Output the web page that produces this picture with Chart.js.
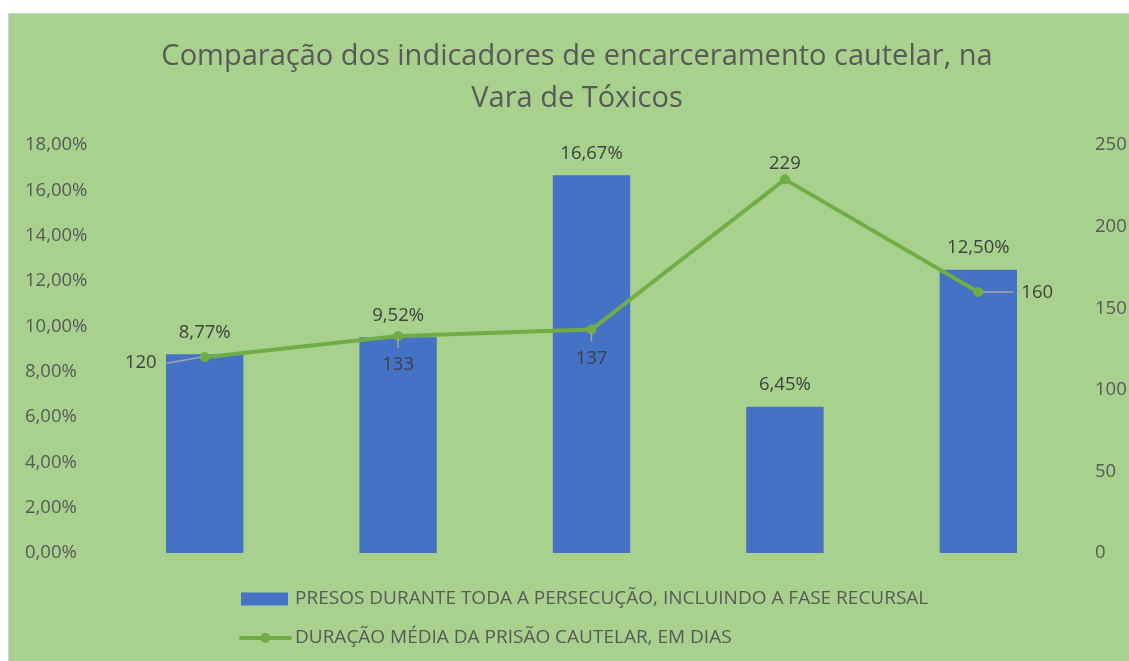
<!DOCTYPE html>
<html><head><meta charset="utf-8">
<script src="https://cdn.jsdelivr.net/npm/chart.js@4"></script>
<style>
html,body{margin:0;padding:0;background:#fff;}
#wrap{position:absolute;left:8px;top:13px;border-left:1px solid #d4d4d4;border-top:1px solid #d4d4d4;width:1120px;height:647px;background:#a9d18e;}
canvas{display:block;}
</style></head><body>
<div id="wrap"><canvas id="c" width="1120" height="647"></canvas></div>
<script>
const categories = ['1', '2', '3', '4', '5'];
const barSeriesName = 'PRESOS DURANTE TODA A PERSECUÇÃO, INCLUINDO A FASE RECURSAL';
const lineSeriesName = 'DURAÇÃO MÉDIA DA PRISÃO CAUTELAR, EM DIAS';
const presosPct = [8.77, 9.52, 16.67, 6.45, 12.50];
const duracaoDias = [120, 133, 137, 229, 160];
const titleLines = ['Comparação dos indicadores de encarceramento cautelar, na', 'Vara de Tóxicos'];
const leftAxis = { min: 0, max: 18, step: 2 };
const rightAxis = { min: 0, max: 250, step: 50 };

const FONT = '"Open Sans", "Noto Sans", sans-serif';
const TXT = '#595959';
const fmtPct = v => v.toFixed(2).replace('.', ',') + '%';

const dataLabels = {
  id: 'dataLabels',
  afterDatasetsDraw(chart, args, opts) {
    const ctx = chart.ctx;
    ctx.save();
    ctx.font = opts.size + 'px ' + FONT;
    ctx.fillStyle = opts.color;
    ctx.textBaseline = 'middle';
    const bar = chart.getDatasetMeta(0);
    const barData = chart.data.datasets[0].data;
    bar.data.forEach((el, i) => {
      ctx.textAlign = 'center';
      ctx.fillText(fmtPct(barData[i]), el.x, el.y - 22);
    });
    const line = chart.getDatasetMeta(1);
    const lineData = chart.data.datasets[1].data;
    ctx.strokeStyle = opts.leader;
    ctx.lineWidth = 1.5;
    line.data.forEach((el, i) => {
      const pos = opts.linePos[i];
      const t = String(lineData[i]);
      let tx = el.x, ty = el.y;
      if (pos === 'left') {
        ctx.textAlign = 'right'; tx = el.x - 48; ty = el.y + 6;
        ctx.beginPath(); ctx.moveTo(el.x - 38, ty); ctx.lineTo(el.x - 4, el.y); ctx.stroke();
      } else if (pos === 'right') {
        ctx.textAlign = 'left'; tx = el.x + 43; ty = el.y + 1;
        ctx.beginPath(); ctx.moveTo(el.x + 4, el.y); ctx.lineTo(el.x + 35, el.y); ctx.stroke();
      } else if (pos === 'below') {
        ctx.textAlign = 'center'; ty = el.y + 29;
        ctx.beginPath(); ctx.moveTo(el.x, el.y + 3); ctx.lineTo(el.x, el.y + 12); ctx.stroke();
      } else {
        ctx.textAlign = 'center'; ty = el.y - 16;
      }
      ctx.fillText(t, tx, ty);
    });
    ctx.restore();
  }
};

const customLegend = {
  id: 'customLegend',
  afterDraw(chart, args, opts) {
    const ctx = chart.ctx;
    ctx.save();
    ctx.font = opts.size + 'px ' + FONT;
    ctx.textBaseline = 'middle';
    ctx.textAlign = 'left';
    chart.data.datasets.forEach((ds, i) => {
      const y = opts.rows[i];
      const x = opts.x;
      if (ds.type === 'bar') {
        ctx.fillStyle = ds.backgroundColor;
        ctx.fillRect(x, y - 6.5, 47, 13);
      } else {
        ctx.strokeStyle = ds.borderColor;
        ctx.lineWidth = ds.borderWidth;
        ctx.lineCap = 'round';
        ctx.beginPath(); ctx.moveTo(x, y); ctx.lineTo(x + 49, y); ctx.stroke();
        ctx.fillStyle = ds.borderColor;
        ctx.beginPath(); ctx.arc(x + 24.5, y, 5, 0, Math.PI * 2); ctx.fill();
      }
      ctx.fillStyle = TXT;
      ctx.fillText(ds.label, x + 54, y);
    });
    ctx.restore();
  }
};

new Chart(document.getElementById('c'), {
  data: {
    labels: categories,
    datasets: [
      { type: 'bar', label: barSeriesName, data: presosPct, yAxisID: 'y', backgroundColor: '#4472c4', borderWidth: 0, barPercentage: 0.4, categoryPercentage: 1, order: 1 },
      { type: 'line', label: lineSeriesName, data: duracaoDias, yAxisID: 'y1', borderColor: '#70ad47', backgroundColor: '#70ad47', borderWidth: 4, pointRadius: 5, pointBackgroundColor: '#70ad47', pointBorderWidth: 0, tension: 0, order: 0 }
    ]
  },
  options: {
    responsive: false,
    animation: false,
    layout: { padding: { left: 16, right: 0, top: 0, bottom: 108 } },
    plugins: {
      legend: { display: false },
      tooltip: { enabled: false },
      title: { display: true, text: titleLines, color: TXT, font: { family: FONT, size: 29, weight: 'normal', lineHeight: 1.45 }, padding: { top: 22, bottom: 25 } },
      dataLabels: { size: 18.5, color: '#404040', leader: '#a6a6a6', linePos: ['left', 'below', 'below', 'above', 'right'] },
      customLegend: { size: 19, x: 232, rows: [585, 624] }
    },
    scales: {
      x: { display: false, offset: true, grid: { display: false } },
      y: {
        position: 'left', min: leftAxis.min, max: leftAxis.max,
        grid: { display: false, drawTicks: false }, border: { display: false },
        ticks: { stepSize: leftAxis.step, crossAlign: 'far', color: TXT, font: { family: FONT, size: 18.5 }, callback: v => fmtPct(v) },
        afterFit: s => { s.width = 83; }
      },
      y1: {
        position: 'right', min: rightAxis.min, max: rightAxis.max,
        grid: { display: false, drawTicks: false }, border: { display: false },
        ticks: { stepSize: rightAxis.step, crossAlign: 'near', padding: 20, color: TXT, font: { family: FONT, size: 18.5 } },
        afterFit: s => { s.width = 54; }
      }
    }
  },
  plugins: [dataLabels, customLegend]
});
</script>
</body></html>
